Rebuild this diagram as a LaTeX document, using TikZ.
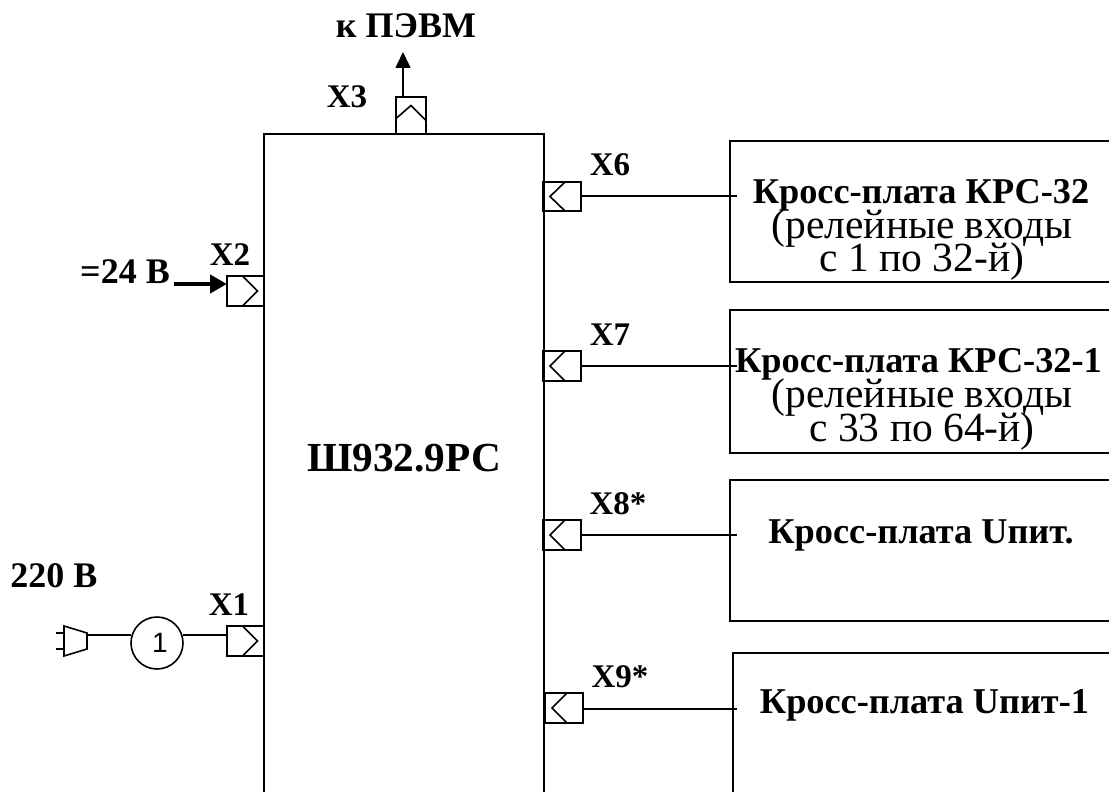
\documentclass[tikz,border=0pt]{standalone}
\usepackage{fontspec}
\setmainfont{Liberation Serif}
\newfontfamily\lblsans{Liberation Sans}
\usetikzlibrary{arrows.meta}
\tikzset{
  blockbox/.style={draw,anchor=north west,inner sep=0pt,outer sep=0pt},
  conn/.style={draw,anchor=north west,inner sep=0pt,outer sep=0pt},
  chev/.style={draw,line width=1.6pt},
  lbl/.style={anchor=base,inner sep=0pt,font=\bfseries\fontsize{33}{33}\selectfont},
  lblb/.style={anchor=base,inner sep=0pt,font=\bfseries\fontsize{36}{36}\selectfont},
  boxtitle/.style={anchor=base,inner sep=0pt,font=\bfseries\fontsize{36.3}{36}\selectfont},
  boxtext/.style={anchor=base,inner sep=0pt,font=\fontsize{41.5}{36}\selectfont},
  wire/.style={draw,line width=1.6pt},
  boldarrow/.style={draw,line width=4.5pt,-{Triangle[length=17pt,width=18pt]}},
  thinarrow/.style={draw,line width=1.6pt,-{Triangle[length=16pt,width=15pt]}},
}
\begin{document}
\begin{tikzpicture}[x=1pt,y=-1pt,line width=1.6pt]
\useasboundingbox (0,0) rectangle (1109,792);
\clip (0,0) rectangle (1109,792);
% blocks
\node[blockbox,minimum width=280pt,minimum height=700pt] (main) at (264,134) {};
\node[blockbox,minimum width=420pt,minimum height=141pt] (b1) at (730,141) {};
\node[blockbox,minimum width=420pt,minimum height=143pt] (b2) at (730,310) {};
\node[blockbox,minimum width=420pt,minimum height=141pt] (b3) at (730,480) {};
\node[blockbox,minimum width=420pt,minimum height=200pt] (b4) at (733,653) {};
% connectors
\node[conn,minimum width=38pt,minimum height=29pt] (x6) at (543,182) {};
\node[conn,minimum width=38pt,minimum height=30pt] (x7) at (543,351) {};
\node[conn,minimum width=38pt,minimum height=30pt] (x8) at (543,520) {};
\node[conn,minimum width=38pt,minimum height=30pt] (x9) at (545,693) {};
\node[conn,minimum width=37pt,minimum height=30pt] (x2) at (227,276) {};
\node[conn,minimum width=37pt,minimum height=30pt] (x1) at (227,626) {};
\node[conn,minimum width=30pt,minimum height=37pt] (x3) at (396,97) {};
% chevrons
\draw[chev] (x6.north)++(3,0) -- +(-15,14.5) -- +(0,29);
\draw[chev] (x7.north)++(3,0) -- +(-15,15) -- +(0,30);
\draw[chev] (x8.north)++(3,0) -- +(-15,15) -- +(0,30);
\draw[chev] (x9.north)++(3,0) -- +(-15,15) -- +(0,30);
\draw[chev] (x2.north)++(-3,0) -- +(15,15) -- +(0,30);
\draw[chev] (x1.north)++(-3,0) -- +(15,15) -- +(0,30);
\draw[chev] (x3.west)++(0,3) -- +(15,-13) -- +(30,2);
% free ends
\coordinate (e6) at (737,196);
\coordinate (e7) at (737,366);
\coordinate (e8) at (737,535);
\coordinate (e9) at (737,709);
\coordinate (pevm) at (403,52);
\coordinate (pwr) at (174,284);
\draw[wire] (x6.east |- e6) -- (e6);
\draw[wire] (x7.east |- e7) -- (e7);
\draw[wire] (x8.east |- e8) -- (e8);
\draw[wire] (x9.east |- e9) -- (e9);
\draw[thinarrow] (x3.north -| pevm) -- (pevm);
\draw[boldarrow] (pwr) -- (pwr -| x2.west);
% plug and wire with marker
\node[draw,circle,minimum size=52pt,inner sep=0pt,outer sep=0pt] (m1) at (157,643) {};
\node[inner sep=0pt,font=\lblsans\fontsize{28}{28}\selectfont] (m1t) at (160,643) {1};
\coordinate (plug) at (87,635);
\coordinate (x1in) at (227,635);
\draw (64,626) -- (87,633) -- (87,649) -- (64,656) -- cycle;
\draw (56,633) -- (64,633) (56,649) -- (64,649);
\draw[wire] (plug) -- (plug -| m1.west);
\draw[wire] (x1in -| m1.east) -- (x1in);
% labels
\node[lbl,font=\bfseries\fontsize{41.3}{41}\selectfont] (title) at (404,471) {Ш932.9РС};
\node[lblb] (lpevm) at (406,38) {к ПЭВМ};
\node[lbl] (l3) at (347,107) {X3};
\node[lbl] (l2) at (230,265) {X2};
\node[lbl] (l1) at (229,615) {X1};
\node[lbl] (l6) at (610,175) {X6};
\node[lbl] (l7) at (610,345) {X7};
\node[lbl] (l8) at (618,514) {X8*};
\node[lbl] (l9) at (620,687) {X9*};
\node[lblb] (l24) at (125,283) {=24 В};
\node[lblb] (l220) at (54,587) {220 В};
% box text
\node[boxtitle] (t1a) at (921,203) {Кросс-плата КРС-32};
\node[boxtext] (t1b) at (922,238) {(релейные входы};
\node[boxtext] (t1c) at (922,271.5) {с 1 по 32-й)};
\node[boxtitle] (t2a) at (918.5,372) {Кросс-плата КРС-32-1};
\node[boxtext] (t2b) at (922,407.5) {(релейные входы};
\node[boxtext] (t2c) at (922,441.5) {с 33 по 64-й)};
\node[boxtitle] (t3a) at (921,543) {Кросс-плата Uпит.};
\node[boxtitle] (t4a) at (924.5,713) {Кросс-плата Uпит-1};
\end{tikzpicture}
\end{document}
